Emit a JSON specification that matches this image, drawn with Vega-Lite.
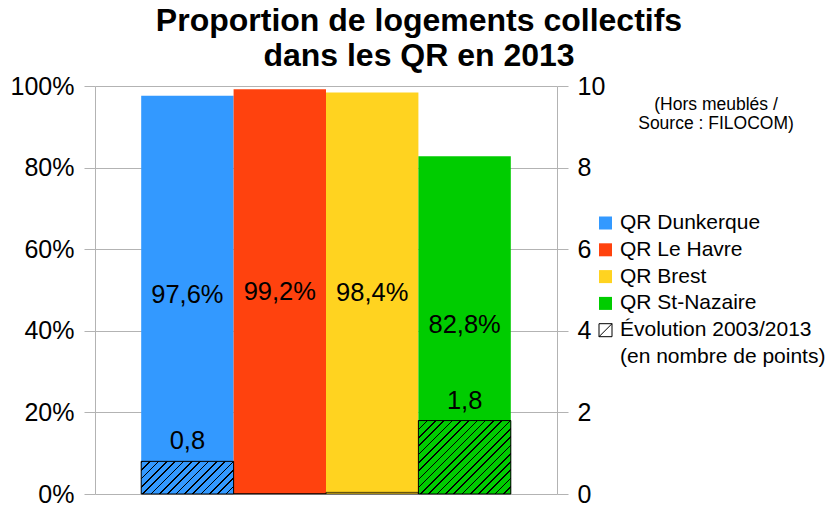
{
  "$schema": "https://vega.github.io/schema/vega-lite/v6.json",
  "width": 462,
  "height": 408,
  "autosize": "none",
  "padding": {"left": 95, "top": 86, "right": 275, "bottom": 14},
  "background": "white",
  "title": {
    "text": ["Proportion de logements collectifs", "dans les QR en 2013"],
    "fontSize": 32,
    "fontWeight": "bold",
    "lineHeight": 35,
    "anchor": "middle",
    "dx": 93,
    "offset": 1,
    "color": "black"
  },
  "data": {
    "values": [
      {"qr": "QR Dunkerque", "part": 0.976, "evol": 0.8},
      {"qr": "QR Le Havre", "part": 0.992, "evol": 0.01},
      {"qr": "QR Brest", "part": 0.984, "evol": 0.04},
      {"qr": "QR St-Nazaire", "part": 0.828, "evol": 1.8}
    ]
  },
  "encoding": {
    "x": {
      "field": "qr",
      "type": "nominal",
      "sort": null,
      "scale": {"paddingInner": 0, "paddingOuter": 0.5},
      "axis": null
    }
  },
  "layer": [
    {
      "mark": {"type": "bar"},
      "encoding": {
        "y": {
          "field": "part",
          "type": "quantitative",
          "scale": {"domain": [0, 1]},
          "axis": {
            "orient": "left",
            "title": null,
            "format": ".0%",
            "values": [0, 0.2, 0.4, 0.6, 0.8, 1],
            "grid": true,
            "gridColor": "#b3b3b3",
            "tickColor": "#b3b3b3",
            "domainColor": "#b3b3b3",
            "tickSize": 11,
            "labelPadding": 10,
            "labelFontSize": 25,
            "labelColor": "black"
          }
        },
        "color": {
          "field": "qr",
          "type": "nominal",
          "scale": {
            "domain": ["QR Dunkerque", "QR Le Havre", "QR Brest", "QR St-Nazaire", "Évolution 2003/2013"],
            "range": ["#3399ff", "#ff420e", "#ffd320", "#00cc00", "white"]
          },
          "legend": {
            "orient": "none",
            "legendX": 500,
            "legendY": 10,
            "padding": 0,
            "title": ["(Hors meublés /", "Source : FILOCOM)"],
            "titleFontSize": 17.5,
            "titleFontWeight": "normal",
            "titleColor": "black",
            "titleAnchor": "middle",
            "titleLineHeight": 19,
            "titlePadding": 80,
            "labelFontSize": 21,
            "labelColor": "black",
            "labelOffset": 4,
            "labelLimit": 400,
            "symbolSize": 169,
            "symbolType": "square",
            "rowPadding": 4.8,
            "labelExpr": "datum.value == 'Évolution 2003/2013' ? ['Évolution 2003/2013', '(en nombre de points)'] : datum.label",
            "encode": {
              "title": {
                "update": {"dx": {"value": 6}}
              },
              "labels": {
                "update": {"lineHeight": {"value": 27}}
              },
              "symbols": {
                "update": {
                  "shape": [
                    {"test": "datum.value == 'Évolution 2003/2013'", "value": "M-1,-1H1V1H-1Z M-1,1L1,-1"},
                    {"value": "square"}
                  ],
                  "stroke": [
                    {"test": "datum.value == 'Évolution 2003/2013'", "value": "black"},
                    {"value": "transparent"}
                  ],
                  "strokeWidth": {"value": 1}
                }
              }
            }
          }
        }
      }
    },
    {
      "mark": {"type": "text", "fontSize": 25.5, "color": "black", "baseline": "middle"},
      "encoding": {
        "y": {"field": "part", "type": "quantitative", "scale": {"domain": [0, 2]}, "axis": null},
        "text": {"field": "part", "type": "quantitative", "format": ".1%"}
      }
    },
    {
      "transform": [{"filter": "datum.qr == 'QR Dunkerque'"}],
      "mark": {
        "type": "bar",
        "stroke": "black",
        "strokeWidth": 1,
        "fill": {
          "gradient": "linear", "x1": 0, "y1": 0, "x2": 1.2031, "y2": 0.425,
          "stops": [
            {"offset": 0, "color": "black"}, {"offset": 0.0125, "color": "black"}, {"offset": 0.0125, "color": "#3399ff"}, {"offset": 0.0667, "color": "#3399ff"},
            {"offset": 0.0667, "color": "black"}, {"offset": 0.0792, "color": "black"}, {"offset": 0.0792, "color": "#3399ff"}, {"offset": 0.1333, "color": "#3399ff"},
            {"offset": 0.1333, "color": "black"}, {"offset": 0.1458, "color": "black"}, {"offset": 0.1458, "color": "#3399ff"}, {"offset": 0.2, "color": "#3399ff"},
            {"offset": 0.2, "color": "black"}, {"offset": 0.2125, "color": "black"}, {"offset": 0.2125, "color": "#3399ff"}, {"offset": 0.2667, "color": "#3399ff"},
            {"offset": 0.2667, "color": "black"}, {"offset": 0.2792, "color": "black"}, {"offset": 0.2792, "color": "#3399ff"}, {"offset": 0.3333, "color": "#3399ff"},
            {"offset": 0.3333, "color": "black"}, {"offset": 0.3458, "color": "black"}, {"offset": 0.3458, "color": "#3399ff"}, {"offset": 0.4, "color": "#3399ff"},
            {"offset": 0.4, "color": "black"}, {"offset": 0.4125, "color": "black"}, {"offset": 0.4125, "color": "#3399ff"}, {"offset": 0.4667, "color": "#3399ff"},
            {"offset": 0.4667, "color": "black"}, {"offset": 0.4792, "color": "black"}, {"offset": 0.4792, "color": "#3399ff"}, {"offset": 0.5333, "color": "#3399ff"},
            {"offset": 0.5333, "color": "black"}, {"offset": 0.5458, "color": "black"}, {"offset": 0.5458, "color": "#3399ff"}, {"offset": 0.6, "color": "#3399ff"},
            {"offset": 0.6, "color": "black"}, {"offset": 0.6125, "color": "black"}, {"offset": 0.6125, "color": "#3399ff"}, {"offset": 0.6667, "color": "#3399ff"},
            {"offset": 0.6667, "color": "black"}, {"offset": 0.6792, "color": "black"}, {"offset": 0.6792, "color": "#3399ff"}, {"offset": 0.7333, "color": "#3399ff"},
            {"offset": 0.7333, "color": "black"}, {"offset": 0.7458, "color": "black"}, {"offset": 0.7458, "color": "#3399ff"}, {"offset": 0.8, "color": "#3399ff"},
            {"offset": 0.8, "color": "black"}, {"offset": 0.8125, "color": "black"}, {"offset": 0.8125, "color": "#3399ff"}, {"offset": 0.8667, "color": "#3399ff"},
            {"offset": 0.8667, "color": "black"}, {"offset": 0.8792, "color": "black"}, {"offset": 0.8792, "color": "#3399ff"}, {"offset": 0.9333, "color": "#3399ff"},
            {"offset": 0.9333, "color": "black"}, {"offset": 0.9458, "color": "black"}, {"offset": 0.9458, "color": "#3399ff"}, {"offset": 1, "color": "#3399ff"}
          ]
        }
      },
      "encoding": {
        "y": {
          "field": "evol",
          "type": "quantitative",
          "scale": {"domain": [0, 10]},
          "axis": {
            "orient": "right",
            "title": null,
            "values": [0, 2, 4, 6, 8, 10],
            "format": "d",
            "grid": false,
            "tickColor": "#b3b3b3",
            "domainColor": "#b3b3b3",
            "tickSize": 11,
            "labelPadding": 9,
            "labelFontSize": 25,
            "labelColor": "black"
          }
        }
      }
    },
    {
      "transform": [{"filter": "datum.qr == 'QR St-Nazaire'"}],
      "mark": {
        "type": "bar",
        "stroke": "black",
        "strokeWidth": 1,
        "fill": {
          "gradient": "linear", "x1": 0, "y1": 0, "x2": 1.1, "y2": 0.8743,
          "stops": [
            {"offset": 0, "color": "black"}, {"offset": 0.01, "color": "black"}, {"offset": 0.01, "color": "#00cc00"}, {"offset": 0.05, "color": "#00cc00"},
            {"offset": 0.05, "color": "black"}, {"offset": 0.06, "color": "black"}, {"offset": 0.06, "color": "#00cc00"}, {"offset": 0.1, "color": "#00cc00"},
            {"offset": 0.1, "color": "black"}, {"offset": 0.11, "color": "black"}, {"offset": 0.11, "color": "#00cc00"}, {"offset": 0.15, "color": "#00cc00"},
            {"offset": 0.15, "color": "black"}, {"offset": 0.16, "color": "black"}, {"offset": 0.16, "color": "#00cc00"}, {"offset": 0.2, "color": "#00cc00"},
            {"offset": 0.2, "color": "black"}, {"offset": 0.21, "color": "black"}, {"offset": 0.21, "color": "#00cc00"}, {"offset": 0.25, "color": "#00cc00"},
            {"offset": 0.25, "color": "black"}, {"offset": 0.26, "color": "black"}, {"offset": 0.26, "color": "#00cc00"}, {"offset": 0.3, "color": "#00cc00"},
            {"offset": 0.3, "color": "black"}, {"offset": 0.31, "color": "black"}, {"offset": 0.31, "color": "#00cc00"}, {"offset": 0.35, "color": "#00cc00"},
            {"offset": 0.35, "color": "black"}, {"offset": 0.36, "color": "black"}, {"offset": 0.36, "color": "#00cc00"}, {"offset": 0.4, "color": "#00cc00"},
            {"offset": 0.4, "color": "black"}, {"offset": 0.41, "color": "black"}, {"offset": 0.41, "color": "#00cc00"}, {"offset": 0.45, "color": "#00cc00"},
            {"offset": 0.45, "color": "black"}, {"offset": 0.46, "color": "black"}, {"offset": 0.46, "color": "#00cc00"}, {"offset": 0.5, "color": "#00cc00"},
            {"offset": 0.5, "color": "black"}, {"offset": 0.51, "color": "black"}, {"offset": 0.51, "color": "#00cc00"}, {"offset": 0.55, "color": "#00cc00"},
            {"offset": 0.55, "color": "black"}, {"offset": 0.56, "color": "black"}, {"offset": 0.56, "color": "#00cc00"}, {"offset": 0.6, "color": "#00cc00"},
            {"offset": 0.6, "color": "black"}, {"offset": 0.61, "color": "black"}, {"offset": 0.61, "color": "#00cc00"}, {"offset": 0.65, "color": "#00cc00"},
            {"offset": 0.65, "color": "black"}, {"offset": 0.66, "color": "black"}, {"offset": 0.66, "color": "#00cc00"}, {"offset": 0.7, "color": "#00cc00"},
            {"offset": 0.7, "color": "black"}, {"offset": 0.71, "color": "black"}, {"offset": 0.71, "color": "#00cc00"}, {"offset": 0.75, "color": "#00cc00"},
            {"offset": 0.75, "color": "black"}, {"offset": 0.76, "color": "black"}, {"offset": 0.76, "color": "#00cc00"}, {"offset": 0.8, "color": "#00cc00"},
            {"offset": 0.8, "color": "black"}, {"offset": 0.81, "color": "black"}, {"offset": 0.81, "color": "#00cc00"}, {"offset": 0.85, "color": "#00cc00"},
            {"offset": 0.85, "color": "black"}, {"offset": 0.86, "color": "black"}, {"offset": 0.86, "color": "#00cc00"}, {"offset": 0.9, "color": "#00cc00"},
            {"offset": 0.9, "color": "black"}, {"offset": 0.91, "color": "black"}, {"offset": 0.91, "color": "#00cc00"}, {"offset": 0.95, "color": "#00cc00"},
            {"offset": 0.95, "color": "black"}, {"offset": 0.96, "color": "black"}, {"offset": 0.96, "color": "#00cc00"}, {"offset": 1, "color": "#00cc00"}
          ]
        }
      },
      "encoding": {
        "y": {"field": "evol", "type": "quantitative", "scale": {"domain": [0, 10]}, "axis": null}
      }
    },
    {
      "transform": [{"filter": "datum.qr == 'QR Le Havre' || datum.qr == 'QR Brest'"}],
      "mark": {"type": "bar", "fill": "transparent", "stroke": "black", "strokeWidth": 0.7},
      "encoding": {
        "y": {"field": "evol", "type": "quantitative", "scale": {"domain": [0, 10]}, "axis": null}
      }
    },
    {
      "transform": [{"filter": "datum.evol > 0.5"}],
      "mark": {"type": "text", "fontSize": 25.5, "color": "black", "baseline": "alphabetic", "dy": -12},
      "encoding": {
        "y": {"field": "evol", "type": "quantitative", "scale": {"domain": [0, 10]}, "axis": null},
        "text": {"field": "evol", "type": "quantitative", "format": ".1f"}
      }
    }
  ],
  "resolve": {"scale": {"y": "independent"}},
  "config": {
    "font": "Liberation Sans",
    "view": {"stroke": null},
    "locale": {
      "number": {"decimal": ",", "thousands": " ", "grouping": [3], "currency": ["", " €"]}
    }
  }
}
